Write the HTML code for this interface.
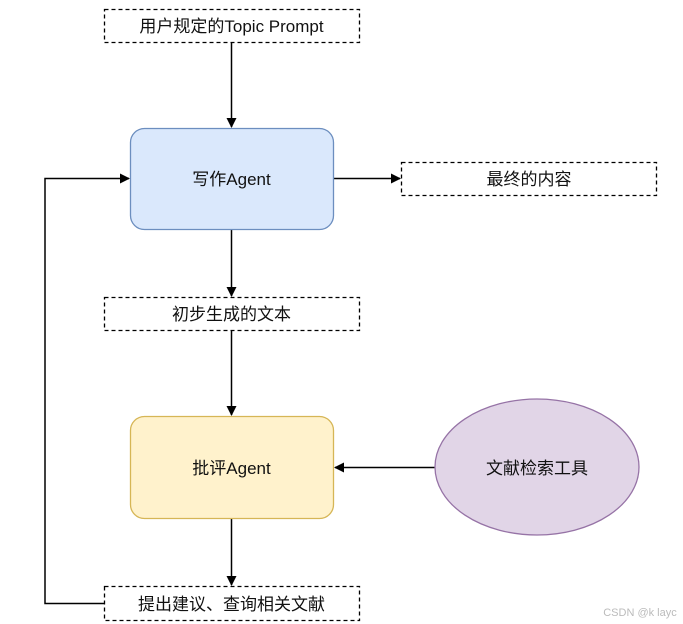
<!DOCTYPE html>
<html><head><meta charset="utf-8"><style>
html,body{margin:0;padding:0;background:#fff;}
svg{display:block;}
text{font-family:"Liberation Sans","Noto Sans CJK SC",sans-serif;font-size:17px;fill:#111;}
</style></head><body>
<svg width="683" height="624" viewBox="0 0 683 624" xmlns="http://www.w3.org/2000/svg">
<defs><marker id="a" markerWidth="10" markerHeight="10" refX="9" refY="5" orient="auto" markerUnits="userSpaceOnUse"><path d="M0,0 L10,5 L0,10 z" fill="#000"/></marker></defs>
<g fill="none" stroke="#000" stroke-width="1.5">
<line x1="231.5" y1="42" x2="231.5" y2="127" marker-end="url(#a)"/>
<line x1="333" y1="178.5" x2="400" y2="178.5" marker-end="url(#a)"/>
<line x1="231.5" y1="229" x2="231.5" y2="296" marker-end="url(#a)"/>
<line x1="231.5" y1="330" x2="231.5" y2="415" marker-end="url(#a)"/>
<line x1="435" y1="467.5" x2="335" y2="467.5" marker-end="url(#a)"/>
<line x1="231.5" y1="518" x2="231.5" y2="585" marker-end="url(#a)"/>
<polyline points="104,603.5 45,603.5 45,178.5 129,178.5" marker-end="url(#a)"/>
</g>
<g fill="#fff" stroke="#000" stroke-width="1.3" stroke-dasharray="4,3">
<rect x="104.5" y="9.5" width="255" height="33"/>
<rect x="401.5" y="162.5" width="255" height="33"/>
<rect x="104.5" y="297.5" width="255" height="33"/>
<rect x="104.5" y="586.5" width="255" height="34"/>
</g>
<rect x="130.5" y="128.5" width="203" height="101" rx="14" fill="#dae8fc" stroke="#6c8ebf" stroke-width="1.3"/>
<rect x="130.5" y="416.5" width="203" height="102" rx="14" fill="#fff2cc" stroke="#d6b656" stroke-width="1.3"/>
<ellipse cx="537" cy="467" rx="102" ry="68" fill="#e1d5e7" stroke="#9673a6" stroke-width="1.3"/>
<g text-anchor="middle">
<text x="231.5" y="32">用户规定的Topic Prompt</text>
<text x="231.5" y="185">写作Agent</text>
<text x="529" y="185">最终的内容</text>
<text x="231.5" y="320">初步生成的文本</text>
<text x="231.5" y="474">批评Agent</text>
<text x="537" y="474">文献检索工具</text>
<text x="231.5" y="610">提出建议、查询相关文献</text>
<text x="640" y="616" style="font-size:11px;fill:#bbb">CSDN @k layc</text>
</g>
</svg>
</body></html>
